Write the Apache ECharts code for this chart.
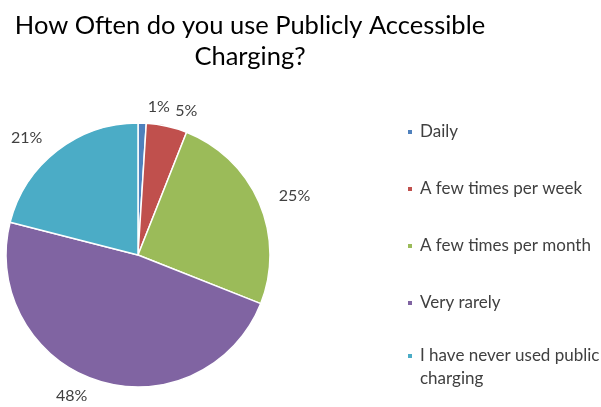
<!DOCTYPE html>
<html>
<head>
<meta charset="utf-8">
<script src="https://cdn.jsdelivr.net/npm/echarts@6/dist/echarts.min.js"></script>
<style>
html,body{margin:0;padding:0;background:#fff;}
#c{width:601px;height:407px;}
</style>
</head>
<body>
<div id="c"></div>
<script>
var titleText = 'How Often do you use Publicly Accessible\nCharging?';
var categories = ['Daily', 'A few times per week', 'A few times per month', 'Very rarely', 'I have never used public charging'];
var values = [1, 5, 25, 48, 21];
var colors = ['#4F81BD', '#C0504D', '#9BBB59', '#8064A2', '#4BACC6'];

var chart = echarts.init(document.getElementById('c'), null, {renderer: 'canvas'});
var data = categories.map(function (c, i) {
  var d = {name: c, value: values[i], itemStyle: {color: colors[i]}};
  if (values[i] < 3) { d.label = {align: 'center'}; }
  return d;
});
var font = 'Lato, "Open Sans", sans-serif';
chart.setOption({
  backgroundColor: '#fff',
  animation: false,
  title: {
    text: titleText,
    left: 250,
    textAlign: 'center',
    top: 10,
    padding: 0,
    textStyle: {fontFamily: font, fontSize: 25.5, fontWeight: 'normal', color: '#000', lineHeight: 31.5}
  },
  legend: [{
    orient: 'vertical',
    left: 406,
    top: 119.5,
    padding: 0,
    itemWidth: 6,
    itemHeight: 6,
    itemGap: 32,
    icon: 'rect',
    data: categories.slice(0, 4),
    textStyle: {fontFamily: font, fontSize: 17, color: '#404040', lineHeight: 25, padding: [0, 0, 0, 2]}
  }, {
    orient: 'vertical',
    left: 406,
    top: 321.5,
    padding: 0,
    itemWidth: 6,
    itemHeight: 6,
    icon: 'rect',
    data: categories.slice(4),
    formatter: function (n) { return '\n' + n.replace(' public ', ' public\n'); },
    textStyle: {fontFamily: font, fontSize: 17, color: '#404040', lineHeight: 23, padding: [0, 0, 0, 2]}
  }],
  series: [{
    type: 'pie',
    center: [138, 255],
    radius: 132,
    startAngle: 90,
    clockwise: true,
    avoidLabelOverlap: false,
    data: data,
    itemStyle: {borderColor: '#fff', borderWidth: 1.5},
    label: {
      show: true,
      position: 'outside',
      formatter: '{c}%',
      fontFamily: font,
      fontSize: 16,
      color: '#404040',
      overflow: 'none'
    },
    labelLine: {show: false, length: 16, length2: 0}
  }]
});
</script>
</body>
</html>
